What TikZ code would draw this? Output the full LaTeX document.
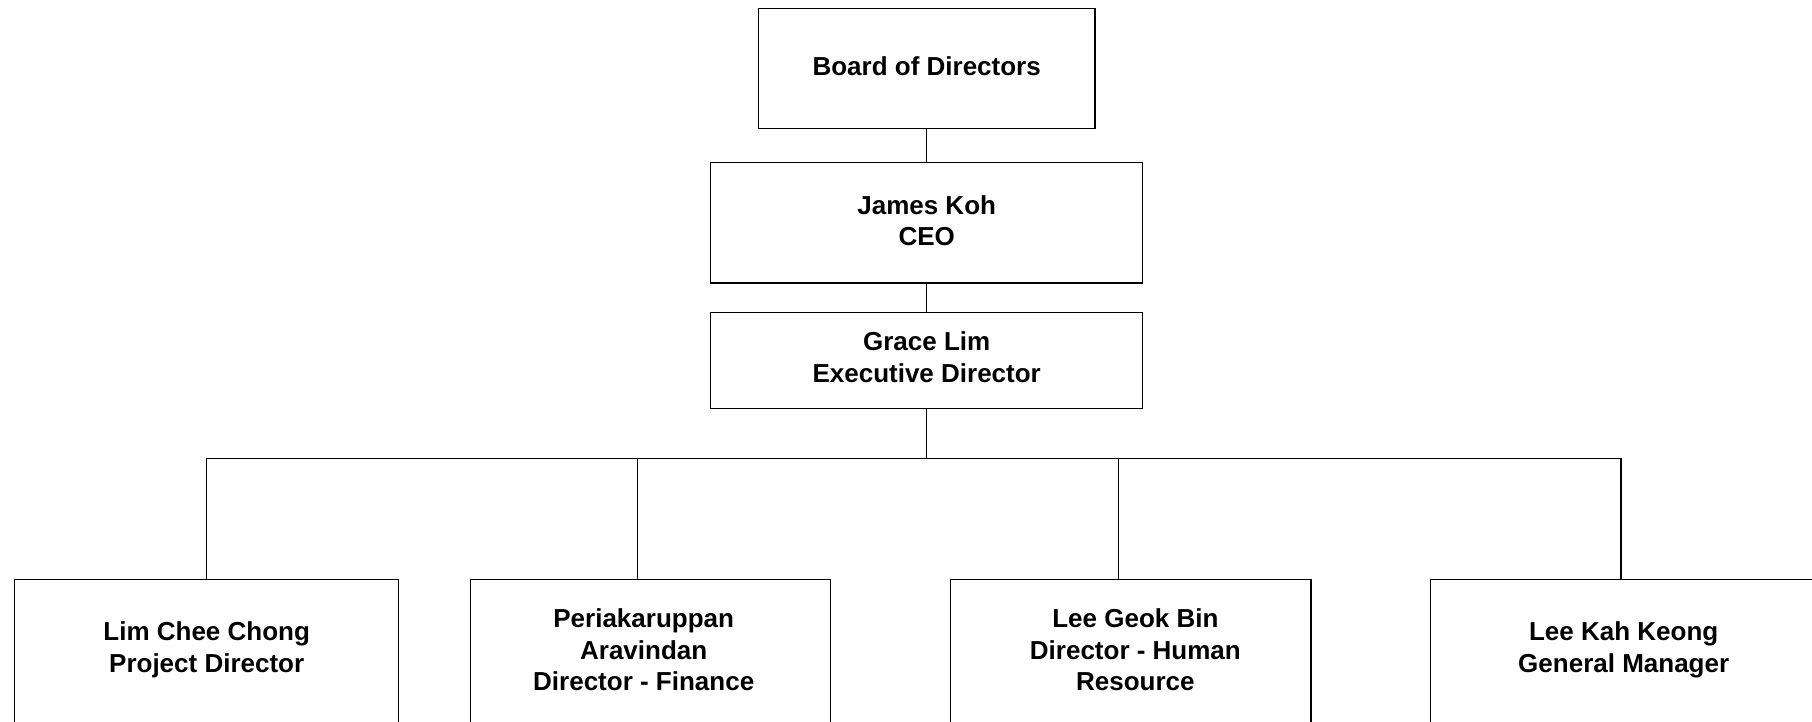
\documentclass[tikz,border=0pt]{standalone}
\usepackage{fontspec}
\setmainfont{Liberation Sans}
\usetikzlibrary{positioning}

\begin{document}
\begin{tikzpicture}[
    x=1pt, y=1pt,
    node distance=30pt,
    post/.style={rectangle, draw, line width=1.4pt, inner sep=0pt, font=\fontsize{26}{31.7}\selectfont\bfseries, align=center},
    staff/.style={rectangle, draw, line width=1.4pt, inner sep=0pt, minimum height=160pt, anchor=north},
    nametext/.style={font=\fontsize{26}{31.7}\selectfont\bfseries, align=center}
]
\useasboundingbox (0,0) rectangle (1812,722);

% Nodes
\node [post, minimum width=336.7pt, minimum height=120pt, text depth=4pt] (board) at (926.7,653.7) {Board of Directors};
\node [post, minimum width=432pt, minimum height=120.7pt, below=32.7pt of board] (ceo) {James Koh\\CEO\\[-31.7pt]\rule[-4.6pt]{0pt}{0pt}};
\node [post, minimum width=432pt, minimum height=96pt, below=28.3pt of ceo] (exec) {Grace Lim\\Executive Director\\[-31.7pt]\rule[-7pt]{0pt}{0pt}};

\node [staff, minimum width=384pt] (project) at (206.7,143) {};
\node [staff, minimum width=360.4pt] (finance) at (650.5,143) {};
\node [staff, minimum width=360.7pt] (hr) at (1130.7,143) {};
\node [staff, minimum width=400pt] (gm) at (1630.7,143) {};

\node [nametext] (projecttxt) at ([yshift=-71pt]project.north) {Lim Chee Chong\\Project Director};
\node [nametext] (financetxt) at ([xshift=-6.8pt,yshift=-71pt]finance.north) {Periakaruppan\\Aravindan\\Director - Finance};
\node [nametext] (hrtxt) at ([xshift=4.7pt,yshift=-71pt]hr.north) {Lee Geok Bin\\Director - Human\\Resource};
\node [nametext] (gmtxt) at ([xshift=-7pt,yshift=-71pt]gm.north) {Lee Kah Keong\\General Manager};

\coordinate (bus) at (0,263.5);
\coordinate (t1) at (project.north);
\coordinate (t2) at (637.7,143);
\coordinate (t3) at (1118.7,143);
\coordinate (t4) at (1621,143);

% Edges
\draw [line width=1.4pt] (board) -- (ceo);
\draw [line width=1.4pt] (ceo) -- (exec);
\draw [line width=1.4pt] (exec.south) -- (exec.south |- bus);
\draw [line width=1.4pt] (t1) -- (t1 |- bus) -- (t4 |- bus) -- (t4);
\draw [line width=1.4pt] (t2) -- (t2 |- bus);
\draw [line width=1.4pt] (t3) -- (t3 |- bus);

\end{tikzpicture}
\end{document}
